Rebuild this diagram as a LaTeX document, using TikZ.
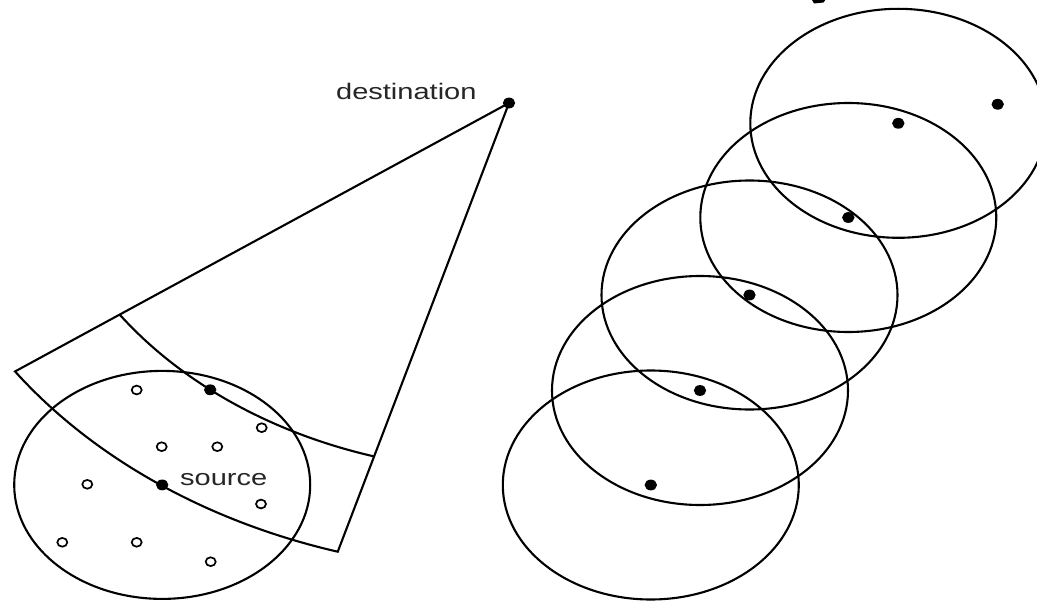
\documentclass[tikz,border=0pt]{standalone}
\usepackage{fontspec}
\setmainfont{Liberation Sans}
\usepackage{graphicx}
\begin{document}
\begin{tikzpicture}[x=1pt,y=1pt,
  ln/.style={line width=2.1pt, black},
  bdot/.style={fill=black},
  odot/.style={draw=black, line width=1.7pt, fill=white},
  lbl/.style={inner sep=0pt, text=black!85, font=\fontsize{22.5}{27}\selectfont}
]
\fill[white] (0,0) rectangle (1037,-602);
\useasboundingbox (0,0) rectangle (1037,-602);
\clip (0,0) rectangle (1037,-602);

% ---- left part: request zone sector ----
\coordinate (dst) at (509,-103);
\coordinate (src) at (162.2,-484.9);
\coordinate (fwd) at (210.2,-389.8);

% outer sector (two rays from destination and outer arc through source)
\draw[ln, line join=miter] (dst) -- ++(215:603pt and 468pt)
   arc[start angle=215, end angle=253.5, x radius=603pt, y radius=468pt] -- cycle;
% inner arc
\draw[ln] (dst) ++(215:475.5pt and 368.6pt)
   arc[start angle=215, end angle=253.5, x radius=475.5pt, y radius=368.6pt];

% transmission range of the source
\draw[ln] (src) ellipse[x radius=148, y radius=114];

% neighbour nodes (open)
\foreach \p in {(136.7,-390),(261.7,-427.7),(161.7,-446.7),(217.3,-446.7),
                (87.3,-484.3),(261,-504),(62.3,-542.3),(136.7,-542.3),(210.7,-561.7)}
  \draw[odot] \p ellipse[x radius=5, y radius=4.4];

% black nodes
\fill[bdot] (dst) ellipse[x radius=6.2, y radius=5.4];
\fill[bdot] (src) ellipse[x radius=6.2, y radius=5.4];
\fill[bdot] (fwd) ellipse[x radius=6.2, y radius=5.4];

\node[lbl, anchor=base east] (dstlabel) at (476.7,-99.5) {\scalebox{1.29}[1]{destination}};
\node[lbl, anchor=base west] (srclabel) at (180,-485) {\scalebox{1.29}[1]{source}};

% ---- right part: chain of ranges ----
\coordinate (h1) at (650.8,-485);
\coordinate (h2) at (700,-390.5);
\coordinate (h3) at (749.5,-295);
\coordinate (h4) at (848.3,-217.5);
\coordinate (h5) at (898.3,-123.3);
\coordinate (dst2) at (997.7,-104.3);
\foreach \n in {h1,h2,h3,h4,h5}{
  \draw[ln] (\n) ellipse[x radius=148, y radius=114.5];
  \fill[bdot] (\n) ellipse[x radius=6.2, y radius=5.4];
}
\fill[bdot] (dst2) ellipse[x radius=6.2, y radius=5.4];

% fragment of a cropped glyph at the top edge
\fill (811.5,1) -- (826,1) -- (823.5,-2.5) -- (814,-3.5) -- cycle;
\end{tikzpicture}
\end{document}
